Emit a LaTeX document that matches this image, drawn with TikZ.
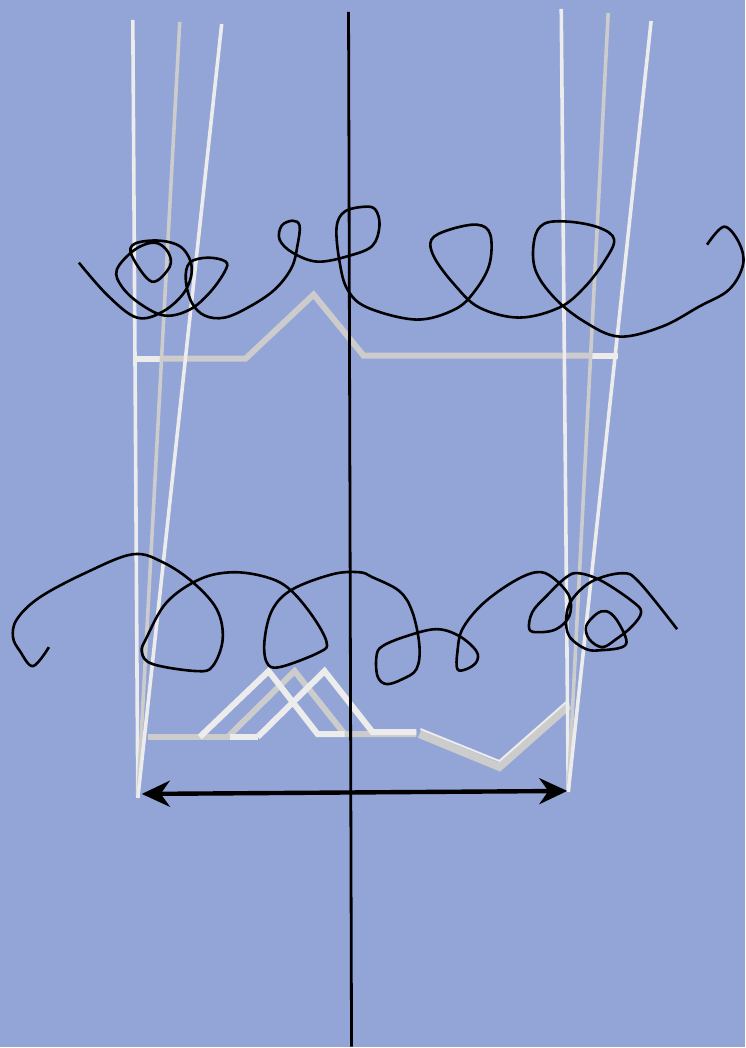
\documentclass[tikz,border=0pt]{standalone}
\usetikzlibrary{calc, positioning}
\usetikzlibrary{arrows.meta}
\definecolor{bgblue}{RGB}{147,164,214}
\definecolor{paleline}{RGB}{236,236,236}
\definecolor{greyline}{RGB}{204,204,204}

\begin{document}
\begin{tikzpicture}[x=0.5pt, y=-0.5pt]
\tikzset{
  fan/.style={line width=1.8pt},
  zig/.style={line width=3pt},
  curl/.style={line width=1.3pt, line join=round},
}
\coordinate (lapex) at (138,799);
\coordinate (rapex) at (569,793);

\fill[bgblue] (0,0) rectangle (746,1048);

% upper zigzag
\draw[zig, greyline] (163,359) -- (246,359) -- (314,295) -- (364,356) -- (593,356);
\draw[zig, paleline] (133,359) -- (163,359);
\draw[zig, paleline] (593,356) -- (619,356);

% lower zigzags
\draw[zig, greyline] (148,738) -- (230,738);
\draw[zig, greyline] (228,738) -- (295,672) -- (345,735) -- (417,735);
\draw[zig, paleline] (230,738) -- (258,738);
\draw[zig, paleline] (200,738) -- (269,672) -- (318,735) -- (345,735);
\draw[zig, paleline] (258,738) -- (325,672) -- (373,733) -- (417,733);
\draw[line width=4pt, greyline] (420,735) -- (500,768) -- (570,706);
\draw[line width=1pt, paleline] (421,730) -- (500,762) -- (567,703);

% fans
\draw[fan, paleline] (133,20) -- (lapex);
\draw[fan, greyline] (180,22) -- (lapex);
\draw[fan, paleline] (222,24) -- (lapex);
\draw[fan, paleline] (562,9) -- (rapex);
\draw[fan, greyline] (609,13) -- (rapex);
\draw[fan, paleline] (652,21) -- (rapex);

% curls
\draw[curl] plot[smooth, tension=0.6] coordinates {
  (79,263) (108,296) (137,318) (163,312) (185,292) (192,268) (182,248)
  (160,241) (135,244) (132,256) (152,282) (170,267) (168,252) (155,243)
  (135,250) (117,270) (122,287) (140,304) (165,316) (190,310) (210,293)
  (225,272) (226,262) (208,258) (190,263) (186,280) (192,303) (205,316)
  (225,318) (250,307) (275,290) (292,268) (298,245) (300,226) (293,221)
  (282,226) (280,240) (293,253) (318,262) (350,256) (373,246) (380,226)
  (376,210) (365,207) (345,212) (337,228) (340,262) (348,290) (368,308)
  (417,320) (455,310) (475,292) (490,265) (491,235) (478,225) (450,230)
  (432,240) (435,258) (455,285) (480,308) (520,318) (560,308) (585,288)
  (605,262) (615,240) (600,228) (570,222) (545,224) (535,240) (536,270)
  (555,298) (585,322) (620,337) (663,327) (700,307) (730,290) (744,265)
  (740,243) (725,227) (708,245)};
\draw[curl] plot[smooth, tension=0.6] coordinates {
  (49,648) (33,667) (20,652) (13,638) (17,620) (40,598) (87,573) (133,555)
  (163,563) (193,583) (217,610) (223,640) (213,667) (197,672) (153,665)
  (142,653) (147,638) (167,603) (200,580) (233,573) (267,578) (290,590)
  (313,617) (327,643) (320,653) (280,668) (267,663) (265,640) (273,610)
  (293,590) (333,575) (360,573) (373,578) (400,592) (413,613) (420,647)
  (417,670) (403,680) (387,685) (378,677) (377,657) (383,647) (407,637)
  (437,630) (460,637) (477,652) (477,663) (467,670) (458,670) (458,653)
  (463,630) (483,605) (513,583) (537,573) (553,578) (570,597) (570,617)
  (557,630) (540,633) (530,630) (533,613) (547,597) (567,578) (580,574)
  (603,582) (633,602) (642,613) (633,627) (617,640) (603,648) (590,640)
  (587,627) (597,615) (607,612) (617,620) (627,640) (623,648) (603,651)
  (587,650) (570,637) (567,618) (573,600) (593,582) (623,574) (640,583)
  (678,630)};

% axis and span
\draw[line width=1.4pt] (349,12) -- (352,1048);
\draw[line width=2.2pt, {Stealth[length=14pt,width=13pt]}-{Stealth[length=14pt,width=13pt]}]
  ($(lapex)+(4,-4)$) -- ($(rapex)+(-1,-1)$);
\end{tikzpicture}
\end{document}
